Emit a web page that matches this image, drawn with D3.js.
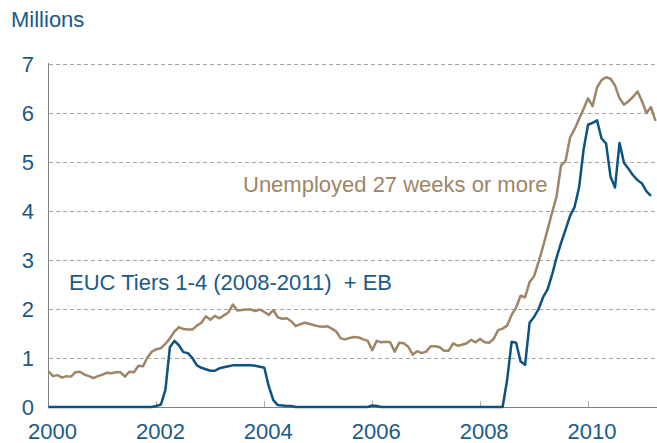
<!DOCTYPE html>
<html>
<head>
<meta charset="utf-8">
<title>Long-term unemployed vs EUC</title>
<style>
  body { margin: 0; background: #fff; }
  text { font-family: "Liberation Sans", Arial, sans-serif; }
</style>
</head>
<body>
<div id="chart"></div>
<script src="https://d3js.org/d3.v7.min.js"></script>
<script>
(function(d3) {
  'use strict';

  // monthly, starting Jan 2000 (millions)
  var startYear = 2000;
  var longTermUnemployed = [
    0.73, 0.63, 0.65, 0.60, 0.63, 0.62, 0.71, 0.72, 0.66, 0.63, 0.59, 0.63,
    0.66, 0.70, 0.69, 0.71, 0.71, 0.62, 0.72, 0.71, 0.84, 0.83, 1.01, 1.13,
    1.18, 1.20, 1.29, 1.40, 1.54, 1.63, 1.59, 1.58, 1.58, 1.66, 1.72, 1.85,
    1.78, 1.86, 1.81, 1.87, 1.93, 2.09, 1.97, 1.98, 1.99, 1.99, 1.96, 1.99,
    1.94, 1.88, 1.98, 1.83, 1.80, 1.81, 1.75, 1.65, 1.69, 1.72, 1.70, 1.67,
    1.65, 1.64, 1.65, 1.60, 1.54, 1.40, 1.38, 1.41, 1.43, 1.42, 1.38, 1.35,
    1.16, 1.35, 1.32, 1.33, 1.32, 1.13, 1.31, 1.30, 1.23, 1.07, 1.14, 1.10,
    1.13, 1.24, 1.24, 1.22, 1.15, 1.15, 1.30, 1.25, 1.27, 1.30, 1.37, 1.32,
    1.39, 1.32, 1.31, 1.39, 1.57, 1.60, 1.66, 1.88, 2.03, 2.27, 2.24, 2.55,
    2.67, 2.96, 3.28, 3.62, 3.97, 4.30, 4.93, 5.02, 5.50, 5.67, 5.88, 6.08,
    6.30, 6.14, 6.52, 6.67, 6.73, 6.70, 6.56, 6.30, 6.17, 6.24, 6.33, 6.44,
    6.24, 6.00, 6.12, 5.84
  ];
  var eucPlusEB = [
    0, 0, 0, 0, 0, 0, 0, 0, 0, 0, 0, 0,
    0, 0, 0, 0, 0, 0, 0, 0, 0, 0, 0, 0,
    0.02, 0.05, 0.35, 1.22, 1.35, 1.26, 1.12, 1.10, 1.00, 0.85, 0.80, 0.77,
    0.74, 0.74, 0.79, 0.81, 0.83, 0.85, 0.85, 0.85, 0.85, 0.85, 0.84, 0.82,
    0.80, 0.42, 0.14, 0.04, 0.03, 0.02, 0.02, 0, 0, 0, 0, 0,
    0, 0, 0, 0, 0, 0, 0, 0, 0, 0, 0, 0,
    0.03, 0.02, 0, 0, 0, 0, 0, 0, 0, 0, 0, 0,
    0, 0, 0, 0, 0, 0, 0, 0, 0, 0, 0, 0,
    0, 0, 0, 0, 0, 0, 0.55, 1.33, 1.31, 0.93, 0.86, 1.72,
    1.84, 2.00, 2.24, 2.40, 2.70, 3.05, 3.35, 3.62, 3.90, 4.08, 4.48, 5.25,
    5.76, 5.80, 5.85, 5.48, 5.38, 4.70, 4.48, 5.39, 4.98, 4.86, 4.73, 4.63,
    4.56, 4.40, 4.31
  ];
  var xTicks = [2000, 2002, 2004, 2006, 2008, 2010];
  var yTicks = [0, 1, 2, 3, 4, 5, 6, 7];

  var width = 657, height = 443;
  var blue = '#0c5380', brown = '#9f8565', labelBlue = '#1b5a86';
  var fontSize = 22;

  var x = d3.scaleLinear().domain([2000, 2011.25]).range([48.5, 655.5]);
  var y = d3.scaleLinear().domain([0, 7]).range([407, 64]);

  var svg = d3.select('#chart').append('svg')
    .attr('width', width)
    .attr('height', height);

  // dashed grid
  svg.append('g').selectAll('line')
    .data(yTicks.filter(function(d) { return d > 0; }))
    .enter().append('line')
    .attr('x1', 49).attr('x2', width)
    .attr('y1', function(d) { return Math.round(y(d)) + 0.5; })
    .attr('y2', function(d) { return Math.round(y(d)) + 0.5; })
    .attr('stroke', '#a6a6a6')
    .attr('stroke-width', 1)
    .attr('stroke-dasharray', '4,3');

  // y axis labels
  svg.append('g').selectAll('text')
    .data(yTicks)
    .enter().append('text')
    .attr('x', 34)
    .attr('y', function(d) { return y(d); })
    .attr('dy', '0.36em')
    .attr('text-anchor', 'end')
    .attr('font-size', fontSize)
    .attr('fill', labelBlue)
    .text(function(d) { return d; });

  svg.append('text')
    .attr('x', 11).attr('y', 27)
    .attr('font-size', fontSize)
    .attr('fill', labelBlue)
    .text('Millions');

  // x axis ticks and labels
  svg.append('g').selectAll('line')
    .data(xTicks.slice(1))
    .enter().append('line')
    .attr('x1', function(d) { return Math.round(x(d)) + 0.5; })
    .attr('x2', function(d) { return Math.round(x(d)) + 0.5; })
    .attr('y1', 401).attr('y2', 407)
    .attr('stroke', '#b0b0b0');

  svg.append('g').selectAll('text')
    .data(xTicks)
    .enter().append('text')
    .attr('x', function(d) { return x(d) + 4; })
    .attr('y', 439)
    .attr('text-anchor', 'middle')
    .attr('font-size', fontSize)
    .attr('fill', labelBlue)
    .text(function(d) { return d; });

  // axis lines
  svg.append('line')
    .attr('x1', 48.5).attr('x2', 48.5).attr('y1', 63).attr('y2', 407.5)
    .attr('stroke', '#808080');
  svg.append('line')
    .attr('x1', 48.5).attr('x2', width).attr('y1', 407.5).attr('y2', 407.5)
    .attr('stroke', '#808080');

  var line = d3.line()
    .x(function(d, i) { return x(startYear + i / 12); })
    .y(function(d) { return y(d); });

  svg.append('path')
    .attr('d', line(longTermUnemployed))
    .attr('fill', 'none')
    .attr('stroke', brown)
    .attr('stroke-width', 2.5)
    .attr('stroke-linejoin', 'round');

  svg.append('path')
    .attr('d', line(eucPlusEB))
    .attr('fill', 'none')
    .attr('stroke', blue)
    .attr('stroke-width', 2.5)
    .attr('stroke-linejoin', 'round');

  svg.append('text')
    .attr('x', 243).attr('y', 192)
    .attr('font-size', fontSize)
    .attr('fill', brown)
    .text('Unemployed 27 weeks or more');

  svg.append('text')
    .attr('x', 69).attr('y', 290)
    .attr('font-size', fontSize)
    .attr('fill', labelBlue)
    .attr('xml:space', 'preserve')
    .text('EUC Tiers 1-4 (2008-2011)  + EB');

})(window.d3);
</script>
</body>
</html>
